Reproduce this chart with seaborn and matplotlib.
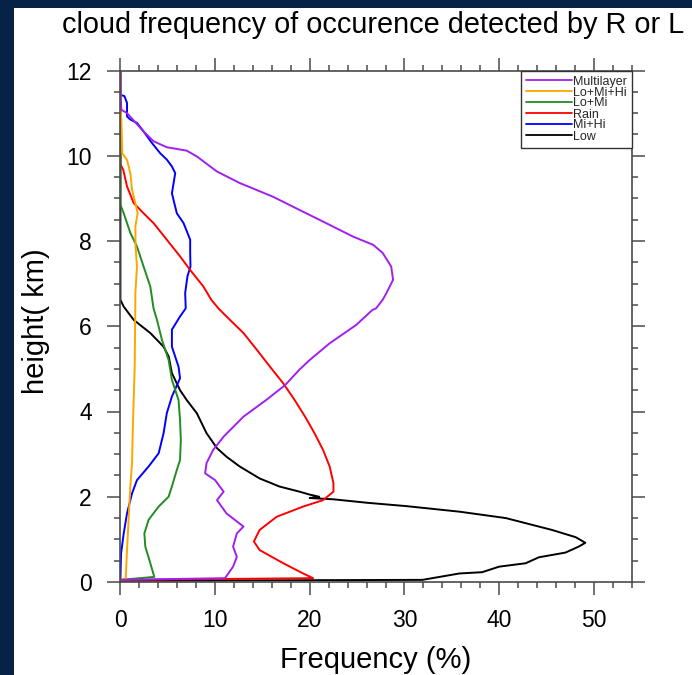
import matplotlib
matplotlib.use("Agg")
import matplotlib.pyplot as plt
from matplotlib.lines import Line2D
from matplotlib.patches import Rectangle
from matplotlib.ticker import MultipleLocator
import pandas as pd
import seaborn as sns

# profiles, listed top -> bottom: height (km), frequency (%)
low_h = [12.0, 6.62, 6.46, 6.15, 5.84, 5.52, 5.29, 4.9, 4.5, 4.27, 3.96, 3.49, 3.14, 2.94, 2.71,
         2.43, 2.24, 2.12, 2.05, 2.0, 1.97, 1.94, 1.86, 1.78, 1.65, 1.5, 1.34, 1.22, 1.05, 0.92,
         0.83, 0.69, 0.58, 0.44, 0.36, 0.23, 0.2, 0.05, 0.03]
low_f = [0.0, 0.0, 0.35, 1.4, 3.16, 4.56, 5.1, 5.44, 6.3, 7.0, 8.07, 9.1, 10.2, 11.2, 12.6,
         14.7, 16.8, 18.9, 20.0, 21.0, 20.0, 22.5, 26.0, 30.2, 35.8, 40.7, 43.5, 45.6, 48.1, 49.1,
         48.4, 47.0, 44.2, 42.8, 40.0, 38.2, 35.8, 31.9, 0.0]

mihi_h = [12.0, 11.43, 11.4, 11.24, 10.92, 10.85, 10.77, 10.57, 10.3, 10.06, 9.91, 9.75, 9.59,
          9.12, 8.65, 8.42, 8.03, 7.72, 7.4, 7.17, 6.78, 6.42, 6.23, 5.92, 5.52, 5.05, 4.78, 4.35,
          3.96, 3.49, 3.02, 2.71, 2.39, 2.08, 1.61, 1.14, 0.67, 0.05]
mihi_f = [0.0, 0.0, 0.42, 0.7, 0.7, 1.05, 1.75, 2.45, 3.33, 4.2, 4.9, 5.44, 5.79,
          5.44, 5.96, 6.67, 7.37, 7.37, 7.4, 7.08, 6.84, 6.9, 6.3, 5.44, 5.44, 6.14, 6.3, 5.44,
          4.9, 4.56, 4.04, 2.98, 1.75, 1.23, 0.7, 0.35, 0.07, 0.0]

rain_h = [12.0, 9.8, 9.67, 9.28, 8.89, 8.65, 8.42, 8.03, 7.64, 7.32, 6.93, 6.62, 6.42, 6.23, 5.84,
          5.45, 5.05, 4.66, 4.27, 3.88, 3.49, 3.1, 2.71, 2.32, 2.12, 1.92, 1.77, 1.53, 1.22, 0.95,
          0.75, 0.44, 0.2, 0.09, 0.05]
rain_f = [0.0, 0.0, 0.3, 0.7, 1.4, 2.45, 3.5, 4.9, 6.3, 7.37, 8.77, 9.6, 10.35, 11.2, 13.0,
          14.4, 15.8, 17.2, 18.4, 19.5, 20.5, 21.4, 22.1, 22.5, 22.5, 21.4, 19.3, 16.5, 14.7, 14.1,
          14.7, 17.2, 19.3, 20.35, 0.0]

lomi_h = [12.0, 8.85, 8.65, 8.19, 7.87, 7.4, 6.93, 6.42, 6.15, 5.68, 5.21, 4.74, 4.27, 3.8, 3.33,
          2.86, 2.63, 2.24, 2.0, 1.77, 1.46, 1.14, 0.83, 0.44, 0.12, 0.05]
lomi_f = [0.0, 0.0, 0.35, 1.05, 1.75, 2.45, 3.16, 3.5, 3.86, 4.39, 5.09, 5.44, 6.14, 6.3, 6.38,
          6.3, 5.96, 5.44, 5.09, 4.04, 2.98, 2.53, 2.63, 3.16, 3.58, 0.0]

lomihi_h = [12.0, 11.1, 10.85, 10.06, 9.9, 9.59, 9.2, 8.89, 8.65, 8.34, 7.87, 7.4, 6.78, 6.62,
            5.05, 4.27, 3.49, 2.79, 2.24, 1.53, 0.75, 0.09, 0.05]
lomihi_f = [0.0, 0.0, 0.1, 0.2, 0.7, 1.05, 1.23, 1.58, 1.82, 1.58, 1.6, 1.75, 1.58, 1.58,
            1.51, 1.4, 1.3, 1.23, 1.05, 0.88, 0.7, 0.56, 0.0]

multi_h = [12.0, 11.5, 11.08, 11.0, 10.57, 10.34, 10.2, 10.12, 9.98, 9.63, 9.36, 9.04, 8.73, 8.5,
           8.1, 7.91, 7.72, 7.4, 7.09, 6.78, 6.62, 6.42, 6.38, 6.03, 5.6, 5.21, 4.98, 4.62, 4.27,
           3.88, 3.41, 3.1, 2.79, 2.55, 2.39, 2.12, 1.92, 1.61, 1.3, 1.14, 0.83, 0.59, 0.36, 0.09,
           0.05]
multi_f = [0.0, 0.0, 0.1, 0.7, 2.45, 3.5, 4.9, 7.0, 8.1, 10.2, 12.6, 16.1, 18.9, 21.0,
           24.6, 26.7, 27.7, 28.6, 28.8, 28.1, 27.7, 27.0, 26.6, 24.9, 22.1, 20.0, 18.9, 17.4, 15.4,
           13.0, 10.9, 9.8, 9.1, 8.95, 10.0, 10.9, 10.2, 11.2, 13.0, 12.3, 11.9, 12.3, 11.9, 11.05,
           0.0]

# drawing order (last on top); legend lists them reversed
names = ["Low", "Mi+Hi", "Rain", "Lo+Mi", "Lo+Mi+Hi", "Multilayer"]
heights = [low_h, mihi_h, rain_h, lomi_h, lomihi_h, multi_h]
freqs = [low_f, mihi_f, rain_f, lomi_f, lomihi_f, multi_f]
colors = {"Low": "black", "Mi+Hi": "#0000ff", "Rain": "#ff0000", "Lo+Mi": "#228b22",
          "Lo+Mi+Hi": "#ffa500", "Multilayer": "#a020f0"}

rows = []
for name, hs, fs in zip(names, heights, freqs):
    for i, (h, f) in enumerate(zip(hs, fs)):
        rows.append({"type": name, "order": i, "height": h, "freq": f})
df = pd.DataFrame(rows)

sns.set_theme(style="ticks")
plt.rcParams["font.family"] = ["Liberation Sans", "DejaVu Sans"]

W, H = 692, 675
fig = plt.figure(figsize=(W / 100, H / 100), dpi=100)
fig.patch.set_facecolor("#062347")
# white slide panel behind the plot
fig.patches.append(Rectangle((14 / W, 0), 1, 1 - 7.5 / H, transform=fig.transFigure,
                             facecolor="white", edgecolor="none", zorder=-10))

ax = fig.add_axes([120.4 / W, 1 - 582 / H, 511.3 / W, 511.5 / H])
ax.set_zorder(2)
ax.set_facecolor("white")

sns.lineplot(data=df, x="freq", y="height", hue="type", hue_order=names, palette=colors,
             sort=False, estimator=None, orient="y", linewidth=1.4, legend=False, ax=ax)

ax.set_xlim(0, 54)
ax.set_ylim(0, 12)
ax.xaxis.set_major_locator(MultipleLocator(10))
ax.xaxis.set_minor_locator(MultipleLocator(2))
ax.yaxis.set_major_locator(MultipleLocator(2))
ax.yaxis.set_minor_locator(MultipleLocator(0.5))
ax.set_xlabel("")
ax.set_ylabel("")

edge = "#4a4a4a"
for s in ax.spines.values():
    s.set_visible(True)
    s.set_color(edge)
    s.set_linewidth(1.2)
ax.tick_params(which="both", direction="out", top=True, right=True, color=edge, width=1.1,
               labelsize=16.5, labelcolor="black")
ax.tick_params(which="major", length=9.5)
ax.tick_params(which="minor", length=4.5)
ax.tick_params(axis="x", which="major", pad=10)
ax.tick_params(axis="y", which="major", pad=11)

handles = [Line2D([], [], color=colors[n], lw=1.3) for n in names[::-1]]
leg = ax.legend(handles, names[::-1], loc="upper right", borderaxespad=0, fontsize=9,
                frameon=True, fancybox=False, handlelength=3.7, handletextpad=0.05,
                labelspacing=-0.08, borderpad=0.4)
leg.get_frame().set_edgecolor("#333333")
leg.get_frame().set_linewidth(1.0)
leg.get_frame().set_alpha(1)

fig.text(62 / W, 1 - 33.3 / H, "cloud frequency of occurence detected by R or L",
         ha="left", va="baseline", fontsize=20.8, color="black")
fig.text(376 / W, 1 - 668 / H, "Frequency (%)", ha="center", va="baseline",
         fontsize=21, color="black")
fig.text(36 / W, 1 - 321 / H, "height( km)", ha="center", va="center", rotation=90,
         fontsize=21, color="black")

fig.savefig("out.png", dpi=100, facecolor=fig.get_facecolor())
